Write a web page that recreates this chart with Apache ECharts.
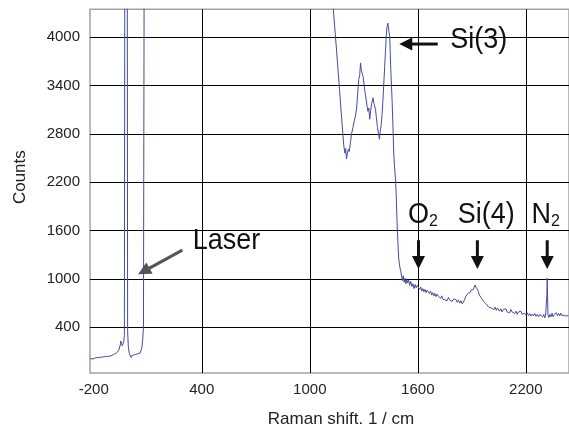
<!DOCTYPE html>
<html>
<head>
<meta charset="utf-8">
<script src="https://cdn.jsdelivr.net/npm/echarts@6/dist/echarts.min.js"></script>
<style>
html,body{margin:0;padding:0;background:#fff;}
#c{width:569px;height:433px;}
</style>
</head>
<body>
<div id="c"></div>
<script>
// ---- data ----
const ramanShift = [
-221,-212,-204,-196,-188,-180,-172,-164,-156,-148,-140,-132,-124,-116,-108,-100,-92,-84,-76,-68,-62,-57,-53,-50,-46,-42,-38,-34,-30,-20,-12,-8,-4,0,4,8,12,17,22,27,32,37,42,47,52,57,62,67,71,76,93,200,600,1000,1125,
1143,1155,1165,1175,1183,1189,1195,1199,1204,1209,1214,1219,1226,1232,1240,1247,1254,1260,1266,1272,1277,1282,1286,1290,1296,1302,1308,1313,1318,1323,1328,1333,1338,1344,1351,1356,1360,1365,1370,1376,1382,1387,1392,1396,1401,1406,1411,1416,1421,1425,1429,1434,1439,1444,1450,1457,1462,1466,1471,1476,1480,1484,1489,1494,1500,1505,1509,
1514,1519,1524,1529,1534,1539,1544,1549,1555,1561,1567,1573,1579,1585,1591,1597,1604,1610,1616,1622,1628,1634,1640,1646,1652,1659,1665,1671,1677,1683,1689,1695,1701,1707,1715,1721,1727,1733,1739,1745,1751,1757,1763,1770,1777,1784,1791,1798,1805,1812,1819,1826,1833,1840,1847,1853,
1860,1866,1872,1878,1884,1890,1896,1902,1908,1914,1918,1922,1927,1932,1936,1942,1948,1954,1960,1966,1973,1980,1987,1994,2001,2008,2015,2022,2029,2036,2042,2047,2054,2061,2068,2075,2082,2089,2096,2103,2110,2117,2124,2131,2138,2145,2152,2159,2166,2173,2180,2187,2194,2201,2208,2215,2222,2229,2236,2243,2250,2257,2264,2271,2278,2286,2293,2300,2305,2310,2314,2317,2319,2321,2323,2328,2334,2340,2346,2352,2358,2364,2370,2376,2382,2388,2394,2400,2406,2412,2418,2424,2430,2436
];
const counts = [
10,18,8,15,22,14,25,18,30,24,35,28,40,46,42,55,60,70,78,90,110,130,180,230,200,170,160,220,300,20000,350,160,90,60,40,25,50,30,45,60,40,55,70,90,60,80,110,150,220,400,20000,20000,20000,20000,4500,
4000,3650,3350,3050,2820,2651,2560,2620,2488,2560,2610,2580,2693,2800,2880,2960,3021,3120,3300,3474,3520,3680,3590,3610,3515,3400,3300,3230,3145,3080,3120,2981,3090,3180,3248,3180,3200,3104,3000,2880,2800,2734,2850,2900,3021,3200,3420,3638,3850,4020,4131,4173,4080,4008,3600,3227,2900,2574,2380,2241,2050,1748,1480,1255,1150,1100,1090,
980,1040,960,1010,940,990,950,987,920,970,905,940,880,930,890,920,925,870,900,850,880,840,870,830,860,864,820,850,800,830,790,820,780,810,782,800,760,790,750,770,740,760,730,770,740,760,720,750,730,745,710,740,700,730,690,700,
740,780,800,820,800,830,860,880,870,900,925,900,910,870,844,800,780,760,740,720,720,690,680,650,659,640,660,620,650,610,640,629,600,630,590,620,600,630,590,610,580,620,590,600,570,600,560,590,570,600,560,580,576,550,580,545,570,540,565,540,570,535,560,530,560,555,530,560,515,550,540,800,1008,800,555,520,560,530,575,530,560,540,580,545,570,540,575,545,565,550,570,540,560,545
];
const xLabelValues = [-200, 400, 1000, 1600, 2200];
const xTickValues = [400, 1000, 1600, 2200];
const yTickValues = [400, 1000, 1600, 2200, 2800, 3400, 4000];
const xTitle = 'Raman shift. 1 / cm';
const yTitle = 'Counts';
const labelTexts = { si3: 'Si(3)', laser: 'Laser', o2: 'O', si4: 'Si(4)', n2: 'N' };

const FONT = 'Liberation Sans, Arial, Helvetica, sans-serif';
const chart = echarts.init(document.getElementById('c'), null, {renderer: 'canvas'});

const option = {
  animation: false,
  backgroundColor: '#fff',
  grid: { left: 90, right: -2, top: 9.3, bottom: 57.7, show: true, borderColor: '#a3a3a3', borderWidth: 1.5 },
  xAxis: {
    type: 'value', min: -221, max: 2440,
    axisLine: { show: false },
    axisTick: { show: true, length: 5, customValues: xTickValues, lineStyle: { color: '#000', width: 1 } },
    axisLabel: { customValues: xLabelValues, fontSize: 15, color: '#222', margin: 9, fontFamily: FONT, formatter: v => String(v) },
    splitLine: { show: true, lineStyle: { color: '#000', width: 1 } },
    name: xTitle, nameLocation: 'middle', nameGap: 38,
    nameTextStyle: { fontSize: 17, color: '#222', fontFamily: FONT, padding: [0, 0, 0, 23] }
  },
  yAxis: {
    type: 'value', min: -167, max: 4345,
    axisLine: { show: false },
    axisTick: { show: true, length: 7, customValues: yTickValues, lineStyle: { color: '#000', width: 1 } },
    axisLabel: { customValues: yTickValues, fontSize: 15, color: '#222', margin: 10, fontFamily: FONT, formatter: v => String(v) },
    splitLine: { show: true, lineStyle: { color: '#000', width: 1 } },
    name: yTitle, nameLocation: 'middle', nameGap: 61,
    nameTextStyle: { fontSize: 17, color: '#222', fontFamily: FONT, padding: [0, 0, 0, 28] }
  },
  series: [{
    type: 'line', showSymbol: false, symbol: 'none', clip: true, silent: true,
    lineStyle: { color: '#464c9e', width: 1 },
    data: ramanShift.map((x, i) => [x, counts[i]])
  }]
};
chart.setOption(option);

const P = (pt) => chart.convertToPixel({ gridIndex: 0 }, pt);
function arrow(from, to, color) {
  const a = P(from), b = P(to);
  const dx = b[0] - a[0], dy = b[1] - a[1];
  const len = Math.hypot(dx, dy), ux = dx / len, uy = dy / len;
  const headLen = 13, half = 6.5;
  const bx = b[0] - ux * headLen, by = b[1] - uy * headLen;
  const nx = -uy, ny = ux;
  return [
    { type: 'line', silent: true, shape: { x1: a[0], y1: a[1], x2: bx + ux, y2: by + uy }, style: { stroke: color, lineWidth: 3 } },
    { type: 'polygon', silent: true, shape: { points: [[b[0], b[1]], [bx + nx * half, by + ny * half], [bx - nx * half, by - ny * half]] }, style: { fill: color } }
  ];
}
function label(pt, text, sub) {
  const p = P(pt);
  const t = sub ? '{b|' + text + '}{s|' + sub + '}' : '{b|' + text + '}';
  return {
    type: 'text', silent: true, x: p[0], y: p[1], scaleY: 1.08,
    style: {
      text: t, align: 'left', verticalAlign: 'middle', fill: '#111',
      fontFamily: FONT, fontSize: 27,
      rich: {
        b: { fontSize: 27, fontFamily: FONT, fill: '#111' },
        s: { fontSize: 16, fontFamily: FONT, fill: '#111', verticalAlign: 'bottom' }
      }
    }
  };
}
let g = [];
g = g.concat(arrow([1711, 3914], [1497, 3914], '#111'));
g = g.concat(arrow([292, 1357], [46, 1057], '#555'));
g = g.concat(arrow([1604, 1480], [1604, 1123], '#111'));
g = g.concat(arrow([1931, 1480], [1931, 1123], '#111'));
g = g.concat(arrow([2319, 1480], [2319, 1123], '#111'));
g.push(label([1780, 3961], labelTexts.si3));
g.push(label([350, 1474], labelTexts.laser));
g.push(label([1545, 1788], labelTexts.o2, '2'));
g.push(label([1822, 1788], labelTexts.si4));
g.push(label([2231, 1788], labelTexts.n2, '2'));
chart.setOption({ graphic: g });
</script>
</body>
</html>
